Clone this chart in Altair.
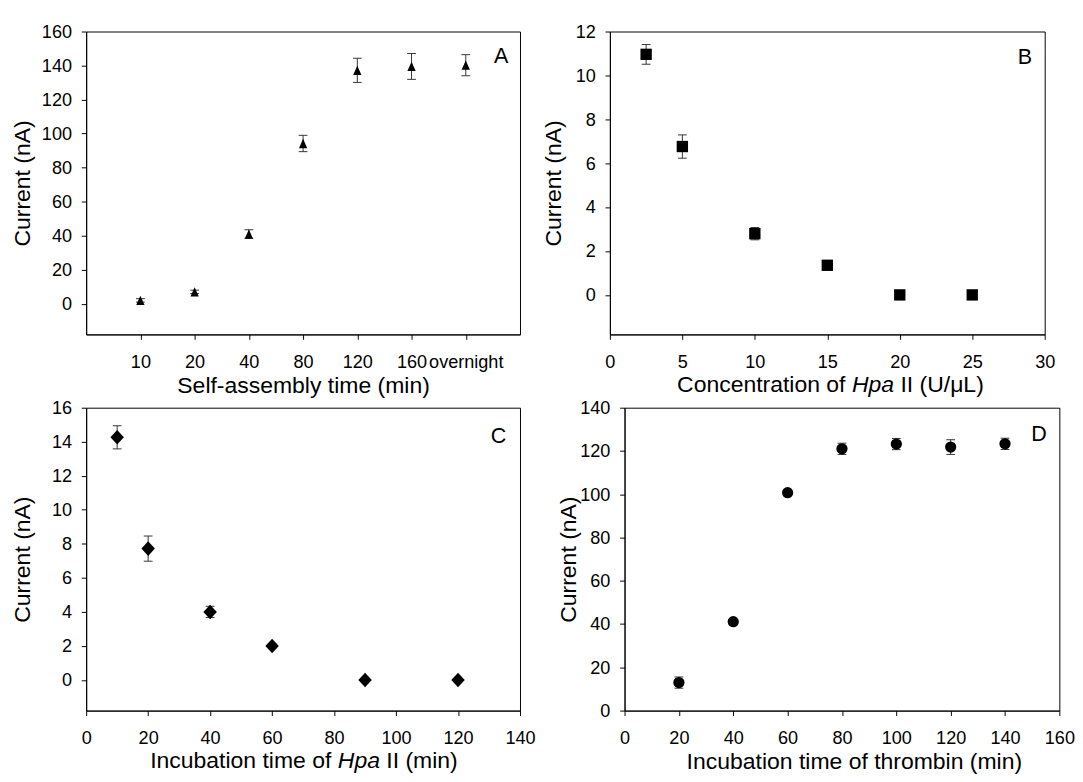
import altair as alt
import pandas as pd

FONT = "Liberation Sans"
H = 310
W_LEFT = 444
W_RIGHT = 445
ERR_COLOR = "#333333"
LABEL_SIZE = 18.5
TITLE_SIZE = 23.5

# ---------------- data ----------------
# Panel A
a_time = ["10", "20", "40", "80", "120", "160", "overnight"]
a_current = [2, 7, 41, 94.2, 137.2, 139.5, 140.2]
a_err = [1, 1, 2.5, 4.8, 7.1, 7.6, 6.2]
a_yticks = [0, 20, 40, 60, 80, 100, 120, 140, 160]

# Panel B
b_conc = [2.5, 5, 10, 15, 20, 25]
b_current = [10.96, 6.76, 2.79, 1.35, 0, 0]
b_err = [0.45, 0.53, 0.28, 0.1, 0.05, 0.05]
b_xticks = [0, 5, 10, 15, 20, 25, 30]
b_yticks = [0, 2, 4, 6, 8, 10, 12]

# Panel C
c_time = [10, 20, 40, 60, 90, 120]
c_current = [14.26, 7.72, 4.0, 2.0, 0, 0]
c_err = [0.68, 0.74, 0.33, 0.1, 0.05, 0.05]
c_xticks = [0, 20, 40, 60, 80, 100, 120, 140]
c_yticks = [0, 2, 4, 6, 8, 10, 12, 14, 16]

# Panel D
d_time = [20, 40, 60, 80, 100, 120, 140]
d_current = [12.95, 41.1, 100.7, 121.0, 123.2, 121.8, 123.3]
d_err = [2.6, 1.0, 1.0, 2.6, 2.6, 3.4, 2.6]
d_xticks = [0, 20, 40, 60, 80, 100, 120, 140, 160]
d_yticks = [0, 20, 40, 60, 80, 100, 120, 140]

# Arial / Liberation Sans advance widths (1/1000 em) for title layout
ARIAL = {" ": 278, "(": 333, ")": 333, "/": 278, "C": 722, "H": 722, "I": 278,
         "L": 556, "U": 722, "a": 556, "b": 556, "c": 500, "e": 556, "f": 278,
         "i": 222, "m": 833, "n": 556, "o": 556, "p": 556, "r": 333, "t": 278,
         "u": 556, "μ": 576}


def tw(s):
    return sum(ARIAL.get(ch, 556) for ch in s) / 1000.0 * TITLE_SIZE


def mixed_title(parts, center):
    """parts: list of (text, fontStyle); returns text layers centred at `center`."""
    total = tw("".join(p for p, _ in parts))
    x = center - total / 2.0
    layers = []
    for text, style in parts:
        lead = len(text) - len(text.lstrip(" "))
        shown = text.strip(" ")
        xpos = x + tw(" " * lead)
        layers.append(
            alt.Chart(pd.DataFrame({"t": [shown]}))
            .mark_text(align="left", baseline="top", font=FONT, fontSize=TITLE_SIZE,
                       fontStyle=style, color="black")
            .encode(text="t:N", x=alt.value(xpos), y=alt.value(H + 40))
        )
        x += tw(text)
    return layers


def make_df(x, y, e):
    return pd.DataFrame({"x": x, "current": y,
                         "lo": [v - d for v, d in zip(y, e)],
                         "hi": [v + d for v, d in zip(y, e)]})


def panel(df, x_enc, y_dom, y_vals, y_ext, y_tp, shape, size, letter, l_dx, l_y,
          width, title_layers=()):
    def Y(field):
        return alt.Y(field, scale=alt.Scale(domain=y_dom, nice=False, zero=False),
                     axis=alt.Axis(values=y_vals, title="Current (nA)",
                                   minExtent=y_ext, maxExtent=y_ext,
                                   titlePadding=y_tp))

    base = alt.Chart(df)
    rule = base.mark_rule(color=ERR_COLOR, strokeWidth=1).encode(
        x=x_enc, y=Y("lo:Q"), y2="hi:Q")
    cap_lo = base.mark_tick(orient="horizontal", size=9, thickness=1,
                            color=ERR_COLOR, opacity=1).encode(x=x_enc, y=Y("lo:Q"))
    cap_hi = base.mark_tick(orient="horizontal", size=9, thickness=1,
                            color=ERR_COLOR, opacity=1).encode(x=x_enc, y=Y("hi:Q"))
    pts = base.mark_point(shape=shape, size=size, filled=True, color="black",
                          opacity=1, strokeWidth=0).encode(x=x_enc, y=Y("current:Q"))
    lab = alt.Chart(pd.DataFrame({"t": [letter]})).mark_text(
        align="right", baseline="alphabetic", font=FONT, fontSize=22, color="black"
    ).encode(text="t:N", x=alt.value(width - l_dx), y=alt.value(l_y))
    return alt.layer(rule, cap_lo, cap_hi, pts, lab, *title_layers).properties(
        width=width, height=H)


# ---------------- panels ----------------
dfA = make_df(a_time, a_current, a_err)
xA = alt.X("x:O", sort=a_time, scale=alt.Scale(type="point", padding=1),
           axis=alt.Axis(labelAngle=0, title="Self-assembly time (min)"))
chartA = panel(dfA, xA, [-18, 160], a_yticks, 46, 6.6,
               "M0,-1.12L1,1.12L-1,1.12Z", 72, "A", 12, 32, W_LEFT)

dfB = make_df(b_conc, b_current, b_err)
xB = alt.X("x:Q", scale=alt.Scale(domain=[0, 30], nice=False, zero=False),
           axis=alt.Axis(values=b_xticks, title=None))
titleB = mixed_title([("Concentration of ", "normal"), ("Hpa", "italic"),
                      (" II (U/μL)", "normal")], 225.7)
chartB = panel(dfB, xB, [-1.8, 12], b_yticks, 45, 0.7, "square", 135, "B", 13, 33,
               W_RIGHT, titleB)

dfC = make_df(c_time, c_current, c_err)
xC = alt.X("x:Q", scale=alt.Scale(domain=[0, 140], nice=False, zero=False),
           axis=alt.Axis(values=c_xticks, title=None))
titleC = mixed_title([("Incubation time of ", "normal"), ("Hpa", "italic"),
                      (" II (min)", "normal")], 222.9)
chartC = panel(dfC, xC, [-1.8, 16], c_yticks, 46, 6.6,
               "M0,-1.08L1,0L0,1.08L-1,0Z", 190, "C", 14, 36, W_LEFT, titleC)

dfD = make_df(d_time, d_current, d_err)
xD = alt.X("x:Q", scale=alt.Scale(domain=[0, 160], nice=False, zero=False),
           axis=alt.Axis(values=d_xticks, title="Incubation time of thrombin (min)",
                         titleX=234.7))
chartD = panel(dfD, xD, [0, 140], d_yticks, 45, 0.7, "circle", 132, "D", 13, 34,
               W_RIGHT)

row1 = alt.hconcat(chartA, chartB, spacing=20)
row2 = alt.hconcat(chartC, chartD, spacing=20)

chart = (
    alt.vconcat(row1, row2, spacing=1)
    .properties(padding={"left": 2, "top": 5, "right": 0, "bottom": 0},
                background="white")
    .configure_axis(labelFont=FONT, titleFont=FONT, labelFontSize=LABEL_SIZE,
                    titleFontSize=TITLE_SIZE, titleFontWeight="normal",
                    labelColor="black", titleColor="black", domainColor="black",
                    tickColor="black", tickSize=5, tickWidth=1, domainWidth=1,
                    grid=False, labelFlush=False, labelOverlap=False)
    .configure_axisX(labelPadding=14, titlePadding=4, minExtent=36, maxExtent=36)
    .configure_axisY(labelPadding=10)
    .configure_view(stroke="black", strokeWidth=1)
)

chart.save("out.html", embed_options={"renderer": "svg", "actions": False})
